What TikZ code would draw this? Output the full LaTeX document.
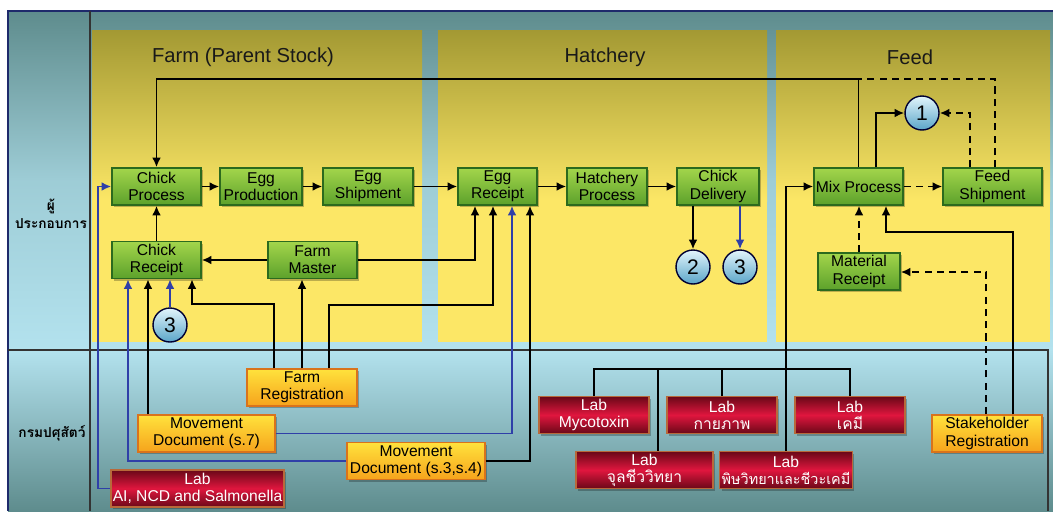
\documentclass[tikz,border=0pt]{standalone}
\usepackage{fontspec}
\setmainfont{Liberation Sans}
\newfontfamily\thaifont[Script=Thai]{Loma}
\usetikzlibrary{shadows, arrows.meta}

\definecolor{laneteal}{HTML}{5E8C8D}
\definecolor{lanelight}{HTML}{B3E2EE}
\definecolor{paneltop}{HTML}{A39933}
\definecolor{panelyel}{HTML}{FCE766}
\definecolor{boxgreen}{HTML}{A3D54B}
\definecolor{boxgreendk}{HTML}{5CA12B}
\definecolor{edgegreen}{HTML}{2C6A1E}
\definecolor{regtop}{HTML}{FFE23C}
\definecolor{regbot}{HTML}{F6A31C}
\definecolor{regedge}{HTML}{D9731C}
\definecolor{labdark}{HTML}{6A0818}
\definecolor{labred}{HTML}{E0163E}
\definecolor{labedge}{HTML}{B8693A}
\definecolor{linkblue}{HTML}{2F3FA8}
\definecolor{framenavy}{HTML}{1E2A6B}
\definecolor{balltop}{HTML}{E2F5FC}
\definecolor{ballbot}{HTML}{5AA5C8}

\tikzset{
  boxbase/.style={rectangle, minimum height=0.74cm, minimum width=#1*0.02cm,
    align=center, inner sep=1pt, font=\fontsize{8.9}{9.8}\selectfont,
    drop shadow={shadow xshift=1.2pt, shadow yshift=-1.2pt, fill=black, opacity=0.25}},
  procbox/.style={boxbase=#1, draw=edgegreen, line width=0.8pt,
    top color=boxgreen, bottom color=boxgreendk},
  procbox/.default=89,
  regbox/.style={boxbase=#1, draw=regedge, line width=0.8pt,
    top color=regtop, bottom color=regbot},
  regbox/.default=110,
  labbox/.style={boxbase=#1, draw=labedge, line width=0.6pt, text=white,
    top color=labdark, bottom color=labdark, middle color=labred},
  labbox/.default=110,
  numball/.style={circle, draw=black!80!blue, line width=0.8pt, minimum size=0.68cm,
    inner sep=0pt, top color=balltop, bottom color=ballbot, font=\fontsize{12}{12}\selectfont},
  heading/.style={font=\fontsize{11.5}{13}\selectfont, text=black!90},
  lanelabel/.style={font=\thaifont\bfseries\fontsize{7.8}{10}\selectfont, align=center},
  wire/.style={line width=1.1pt},
  dashwire/.style={wire, dash pattern=on 4pt off 3pt},
  link/.style={wire, ->},
  bluelink/.style={link, draw=linkblue}
}

\begin{document}
\begin{tikzpicture}[x=0.02cm, y=-0.02cm, >={Latex[length=5.5pt,width=5pt]}]
  \useasboundingbox (0,0) rectangle (1053,511);
  % Background
  \fill[white] (0,0) rectangle (1053,511);
  \shade[top color=laneteal, bottom color=lanelight, middle color=lanelight!75!laneteal] (8,11) rectangle (1053,350);
  \shade[top color=lanelight, bottom color=laneteal] (8,350) rectangle (1053,511);
  \foreach \xa/\xb in {92/422, 438/767, 776/1050}{
    \shade[top color=paneltop, bottom color=panelyel] (\xa,30) rectangle (\xb,201);
    \fill[panelyel] (\xa,200) rectangle (\xb,342);
  }
  \draw[framenavy, line width=1.6pt] (8,511) -- (8,11) -- (1053,11);
  \draw[black!80, line width=0.6pt] (90,11) -- (90,511);
  \draw[black!80, line width=0.6pt] (8,350) -- (1048,350) -- (1048,511);

  % Lanes and panel titles
  \node[lanelabel] (lanetop) at (51,214) {ผู้\\ประกอบการ};
  \node[lanelabel] (lanedld) at (52,433) {กรมปศุสัตว์};
  \node[heading] (hfarm) at (243,57) {Farm (Parent Stock)};
  \node[heading] (hhatch) at (605,57) {Hatchery};
  \node[heading] (hfeed) at (910,57) {Feed};

  % Farm
  \node[procbox] (cp) at (156.5,186.5) {Chick\\Process};
  \node[procbox=82] (ep) at (261,186.5) {Egg\\Production};
  \node[procbox=90] (es) at (368,186.5) {Egg\\Shipment};
  \node[procbox] (cr) at (156.5,260) {Chick\\Receipt};
  \node[procbox] (fm) at (312.5,260) {Farm\\Master};
  \node[numball] (c3a) at (170,325) {3};

  % Hatchery
  \node[procbox=79] (er) at (497.5,186.5) {Egg\\Receipt};
  \node[procbox=80] (hp) at (607,186.5) {Hatchery\\Process};
  \node[procbox=82] (cd) at (718,186.5) {Chick\\Delivery};
  \node[numball] (c2) at (693,267) {2};
  \node[numball] (c3b) at (740,267) {3};

  % Feed
  \node[procbox] (mp) at (858.5,186.5) {Mix Process};
  \node[procbox=99] (fs) at (992.5,186.5) {Feed\\Shipment};
  \node[procbox=82] (mr) at (859,271.5) {Material\\Receipt};
  \node[numball] (c1) at (922,113) {1};

  % Department
  \node[regbox] (fr) at (302,387.5) {Farm\\Registration};
  \node[regbox=137] (md7) at (206.5,433.5) {Movement\\Document (s.7)};
  \node[regbox=138] (md34) at (416,461) {Movement\\Document (s.3,s.4)};
  \node[regbox] (sr) at (987,433.5) {Stakeholder\\Registration};
  \node[labbox=173] (lai) at (197.5,488.5) {Lab\\AI, NCD and Salmonella};
  \node[labbox] (lmy) at (594,415) {Lab\\Mycotoxin};
  \node[labbox] (lph) at (722,415) {Lab\\{\thaifont กายภาพ}};
  \node[labbox] (lch) at (850,415) {Lab\\{\thaifont เคมี}};
  \node[labbox=137] (lmi) at (644.5,470) {Lab\\{\thaifont จุลชีววิทยา}};
  \node[labbox=128] (ltx) at (786,470) {Lab\\{\thaifont\fontsize{8.2}{9.8}\selectfont พิษวิทยาและชีวะเคมี}};

  % Bend points
  \coordinate (top) at (500,79);
  \coordinate (d1) at (995,79);
  \coordinate (m1) at (876,113);
  \coordinate (f1) at (970,113);
  \coordinate (s1) at (1013,232);
  \coordinate (s2) at (886,232);
  \coordinate (s3) at (986,272);
  \coordinate (e1) at (475,260);
  \coordinate (g1) at (274,304);
  \coordinate (g2) at (192,304);
  \coordinate (g3) at (329,305);
  \coordinate (g4) at (493,305);
  \coordinate (h1) at (148,300);
  \coordinate (h2) at (512,432);
  \coordinate (h3) at (128,461);
  \coordinate (h4) at (530,461);
  \coordinate (h5) at (98,300);
  \coordinate (lt) at (658,369);

  % Farm and hatchery flow
  \draw[link] (cp) -- (ep);
  \draw[link] (ep) -- (es);
  \draw[link] (es) -- (er);
  \draw[link] (er) -- (hp);
  \draw[link] (hp) -- (cd);
  \draw[link] (cr) -- (cp);
  \draw[link] (fm) -- (cr);
  \draw[link] (fm.east) -- (e1) -- (e1 |- er.south);
  \draw[link] (c2 |- cd.south) -- (c2);
  \draw[bluelink] (c3b |- cd.south) -- (c3b);
  \draw[bluelink] (c3a) -- (c3a |- cr.south);

  % Feed flow
  \draw[link] (mp.north) |- (top) -| (cp.north);
  \draw[dashwire] (d1 |- fs.north) -- (d1) -- (mp.north |- d1);
  \draw[link] (m1 |- mp.north) -- (m1) -- (c1);
  \draw[link, dashwire] (f1 |- fs.north) -- (f1) -- (c1);
  \draw[link, dashwire] (mp) -- (fs);
  \draw[link, dashwire] (mr.north) -- (mr.north |- mp.south);
  \draw[link] (s1 |- sr.north) -- (s1) -- (s2) -- (s2 |- mp.south);
  \draw[link, dashwire] (s3 |- sr.north) -- (s3) -- (s3 -| mr.east);
  \draw[link] (ltx.north) |- (mp.west);

  % Department links
  \draw[link] (g1 |- fr.north) -- (g1) -- (g2) -- (g2 |- cr.south);
  \draw[link] (fr.north) -- (fr.north |- fm.south);
  \draw[link] (g3 |- fr.north) -- (g3) -- (g4) -- (g4 |- er.south);
  \draw[link] (h1 |- md7.north) -- (h1 |- cr.south);
  \draw[bluelink] (md7.east) -| (er.south -| h2);
  \draw[bluelink] (md34.west) -| (cr.south -| h3);
  \draw[link] (md34.east) -| (er.south -| h4);
  \draw[bluelink] (lai.west) -| (h5 |- cp.west) -- (cp.west);
  \draw[wire] (lmy.north) |- (lch.north |- lt) -- (lch.north);
  \draw[wire] (lph.north) -- (lph.north |- lt);
  \draw[wire] (lt) -- (lt |- lmi.north);
\end{tikzpicture}
\end{document}
